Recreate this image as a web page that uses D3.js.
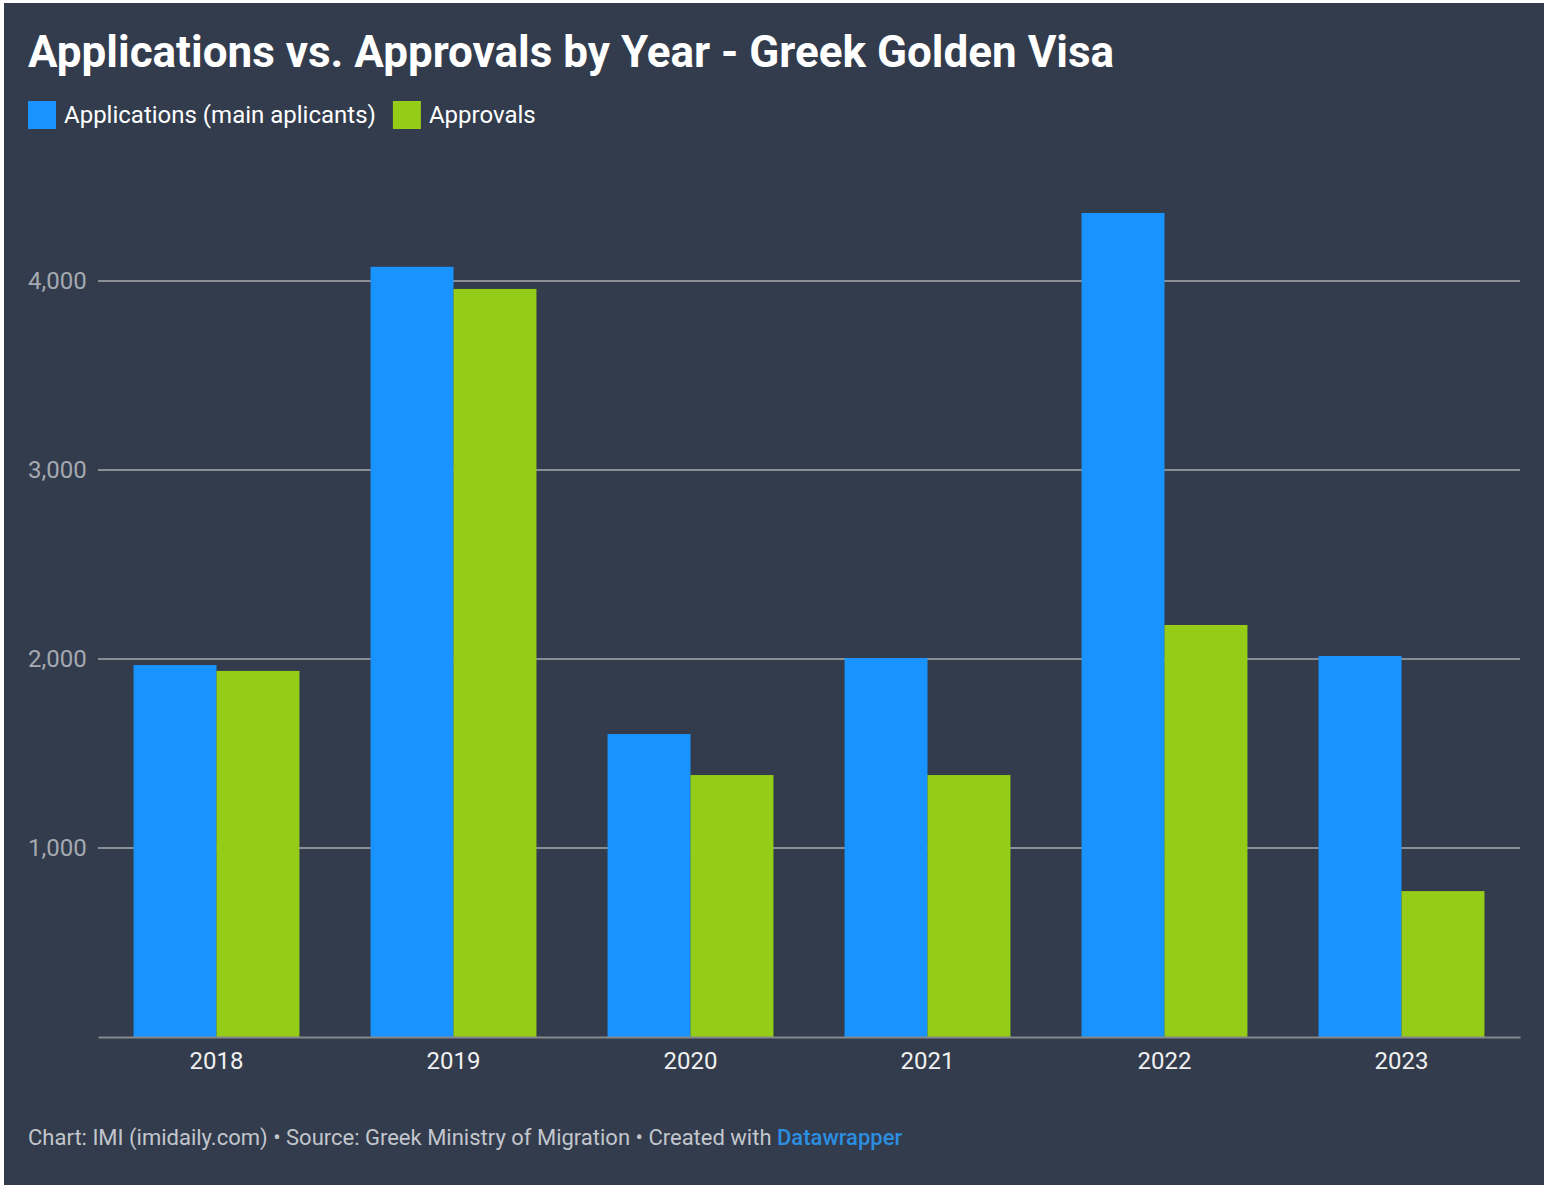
<!DOCTYPE html>
<html>
<head>
<meta charset="utf-8">
<script src="https://cdn.jsdelivr.net/npm/d3@7"></script>
<style>
  html, body { margin: 0; padding: 0; background: #fff; }
  svg text { font-family: Roboto, "Noto Sans", sans-serif; }
</style>
</head>
<body>
<svg id="chart"></svg>
<script>
const years = ['2018', '2019', '2020', '2021', '2022', '2023'];
const applications = [1968, 4075, 1603, 2005, 4360, 2016];
const approvals = [1937, 3958, 1386, 1386, 2180, 772];
const seriesNames = ['Applications (main aplicants)', 'Approvals'];
const yTicks = [1000, 2000, 3000, 4000];

const width = 1546;
const height = 1188;
const colors = ['#1993ff', '#95cc17'];

const svg = d3.select('#chart').attr('width', width).attr('height', height);

// dark card
svg.append('rect')
  .attr('x', 4).attr('y', 3)
  .attr('width', 1540).attr('height', 1182)
  .attr('fill', '#323c4d');

svg.append('text')
  .attr('x', 28).attr('y', 67)
  .attr('fill', '#ffffff')
  .attr('font-size', 44)
  .attr('font-weight', 700)
  .text('Applications vs. Approvals by Year - Greek Golden Visa');

// legend
const legend = svg.append('g');
let lx = 28;
seriesNames.forEach((name, i) => {
  legend.append('rect')
    .attr('x', lx).attr('y', 101)
    .attr('width', 28).attr('height', 28)
    .attr('fill', colors[i]);
  const t = legend.append('text')
    .attr('x', lx + 36).attr('y', 123)
    .attr('fill', '#ffffff')
    .attr('font-size', 24)
    .text(name);
  lx += 36 + t.node().getComputedTextLength() + 17;
});

const x = d3.scaleBand()
  .domain(years)
  .range([98, 1520])
  .paddingInner(0.3)
  .paddingOuter(0.15);

const x1 = d3.scaleBand()
  .domain([0, 1])
  .range([0, x.bandwidth()]);

const y = d3.scaleLinear()
  .domain([0, 4000])
  .range([1037, 281]);

// grid
const grid = svg.append('g');
grid.selectAll('line')
  .data(yTicks)
  .enter()
  .append('line')
  .attr('x1', 98).attr('x2', 1520)
  .attr('y1', d => y(d)).attr('y2', d => y(d))
  .attr('stroke', '#8a8e95')
  .attr('stroke-width', 2);

grid.selectAll('text')
  .data(yTicks)
  .enter()
  .append('text')
  .attr('x', 28)
  .attr('y', d => y(d) + 8)
  .attr('fill', '#a5a9b0')
  .attr('font-size', 24)
  .text(d => d3.format(',')(d));

// bars
const groups = svg.append('g').selectAll('g')
  .data(years)
  .enter()
  .append('g')
  .attr('transform', d => `translate(${x(d)},0)`);

groups.selectAll('rect')
  .data((d, i) => [applications[i], approvals[i]])
  .enter()
  .append('rect')
  .attr('x', (d, j) => x1(j))
  .attr('y', d => y(d))
  .attr('width', x1.bandwidth())
  .attr('height', d => y(0) - y(d))
  .attr('fill', (d, j) => colors[j]);

// baseline + year labels
const xAxis = svg.append('g').attr('transform', `translate(0, ${y(0)})`)
  .call(d3.axisBottom(x).tickSize(0).tickPadding(15));
xAxis.select('.domain')
  .attr('stroke', '#86888c')
  .attr('stroke-width', 2);
xAxis.selectAll('text')
  .attr('fill', '#f0f0f0')
  .attr('font-size', 24)
  .attr('font-family', 'Roboto, sans-serif');

// footer
const footer = svg.append('text')
  .attr('x', 28).attr('y', 1145)
  .attr('fill', '#c3c6cc')
  .attr('font-size', 22);
footer.append('tspan')
  .text('Chart: IMI (imidaily.com) \u2022 Source: Greek Ministry of Migration \u2022 Created with ');
footer.append('tspan')
  .attr('fill', '#2c8ee0')
  .attr('font-weight', 500)
  .text('Datawrapper');
</script>
</body>
</html>
